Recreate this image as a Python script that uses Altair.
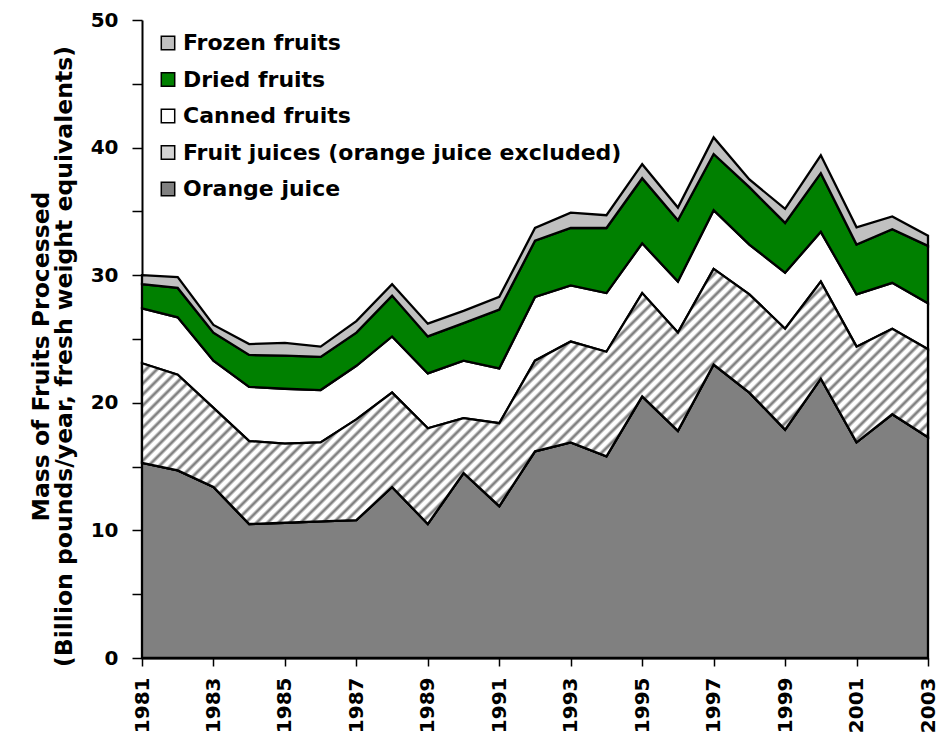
import altair as alt
import pandas as pd

years = list(range(1981, 2004))
series_names = ["Orange juice", "Fruit juices (orange juice excluded)", "Canned fruits",
                "Dried fruits", "Frozen fruits"]
orange = [15.3, 14.7, 13.4, 10.5, 10.6, 10.7, 10.8, 13.4, 10.5, 14.5, 11.9, 16.2,
          16.9, 15.8, 20.5, 17.8, 23.0, 20.8, 17.9, 21.9, 16.9, 19.1, 17.3]
fruit_juices = [7.8, 7.5, 6.2, 6.5, 6.2, 6.2, 7.9, 7.4, 7.5, 4.3, 6.5, 7.1,
                7.9, 8.2, 8.1, 7.7, 7.5, 7.7, 7.9, 7.6, 7.5, 6.7, 6.9]
canned = [4.3, 4.5, 3.7, 4.25, 4.3, 4.1, 4.2, 4.4, 4.3, 4.5, 4.3, 5.0,
          4.4, 4.6, 3.9, 4.0, 4.6, 3.9, 4.4, 3.9, 4.1, 3.6, 3.6]
dried = [1.9, 2.3, 2.2, 2.5, 2.6, 2.6, 2.6, 3.2, 2.9, 2.95, 4.6, 4.4,
         4.5, 5.1, 5.1, 4.8, 4.4, 4.5, 3.9, 4.6, 3.9, 4.2, 4.5]
frozen = [0.7, 0.85, 0.6, 0.85, 1.0, 0.8, 0.9, 0.9, 1.0, 0.95, 1.0, 1.0,
          1.2, 1.0, 1.1, 1.0, 1.3, 0.6, 1.1, 1.4, 1.35, 1.0, 0.8]

legend_order = ["Frozen fruits", "Dried fruits", "Canned fruits",
                "Fruit juices (orange juice excluded)", "Orange juice"]
legend_colors = ["#c0c0c0", "#008000", "#ffffff", "#d4d4d4", "#808080"]
y_title = ["Mass of Fruits Processed", "(Billion pounds/year, fresh weight equivalents)"]

# ---- build long table with explicit bottom/top for each band ----
values = [orange, fruit_juices, canned, dried, frozen]
rows = []
for i, yr in enumerate(years):
    base = 0.0
    for name, vals in zip(series_names, values):
        top = base + vals[i]
        rows.append({"year": yr, "series": name, "bottom": base, "top": top})
        base = top
df = pd.DataFrame(rows)

W, H = 786, 638
FONT = "DejaVu Sans"

# ---- hatch gradient for fruit juices (45 degree stripes) ----
fj = df[df.series == series_names[1]]
bb_h = (fj.top.max() - fj.bottom.min()) * H / 50.0
bb_w = float(W)
span = bb_w + bb_h
k = bb_w * (bb_w + bb_h) / (bb_w ** 2 + bb_h ** 2)
period = 11.0
stops = []
n = int(span / period) + 1
for i in range(n):
    for frac, col in [(0.0, "#ffffff"), (0.18, "#ffffff"), (0.45, "#808080"),
                      (0.55, "#808080"), (0.82, "#ffffff")]:
        off = (i + frac) * period / span
        if off <= 1.0:
            stops.append({"offset": off, "color": col})
hatch = {"gradient": "linear", "x1": 0, "y1": 0, "x2": k, "y2": k * bb_h / bb_w, "stops": stops}

x_enc = alt.X("year:Q",
              scale=alt.Scale(domain=[years[0], years[-1]], nice=False, zero=False),
              axis=alt.Axis(values=years, format="d", grid=False,
                            labelExpr="datum.value % 2 == 1 ? datum.label : ''",
                            labelAngle=270, labelFontSize=20, labelFont=FONT,
                            labelFontWeight="bold", labelPadding=11, tickSize=8,
                            labelOverlap=False, labelFlush=False, title=None))
y_enc = alt.Y("top:Q", scale=alt.Scale(domain=[0, 50], nice=False),
              axis=alt.Axis(values=list(range(0, 51, 5)),
                            labelExpr="datum.value % 10 == 0 ? datum.label : ''",
                            labelFontSize=20, labelFont=FONT, labelFontWeight="bold",
                            labelPadding=14, tickSize=10, grid=False,
                            title=y_title, titleFont=FONT, titleFontSize=23.5,
                            titleFontWeight="bold", titleLineHeight=23, titlePadding=14,
                            titleY=336))

base = alt.Chart(df).mark_area(stroke="black", strokeWidth=2.3, opacity=1, fillOpacity=1).encode(
    x=x_enc,
    y=y_enc,
    y2="bottom:Q",
    color=alt.Color("series:N",
                    scale=alt.Scale(domain=legend_order, range=legend_colors),
                    legend=alt.Legend(
                        title=None, orient="none", legendX=15, legendY=12,
                        symbolType="square", symbolSize=180, symbolStrokeColor="black",
                        symbolStrokeWidth=1.5, symbolOpacity=1,
                        labelFont=FONT, labelFontSize=22, labelFontWeight="bold",
                        labelColor="black", labelOffset=4, rowPadding=14.5, padding=0,
                        labelLimit=600)),
    detail="series:N",
)

hatch_layer = alt.Chart(df).transform_filter(
    alt.datum.series == series_names[1]
).mark_area(fill=hatch, stroke="black", strokeWidth=2.3).encode(
    x=alt.X("year:Q"), y=alt.Y("top:Q"), y2="bottom:Q")

chart = alt.layer(base, hatch_layer).properties(
    width=W, height=H,
    autosize=alt.AutoSizeParams(type="none"),
    padding={"left": 134, "top": 12, "right": 10, "bottom": 75},
).configure_view(stroke=None).configure_axis(
    domainColor="black", domainWidth=2, tickColor="black", tickWidth=1.5,
    labelColor="black", titleColor="black")

chart.save("out.html", embed_options={"renderer": "svg", "actions": False})
